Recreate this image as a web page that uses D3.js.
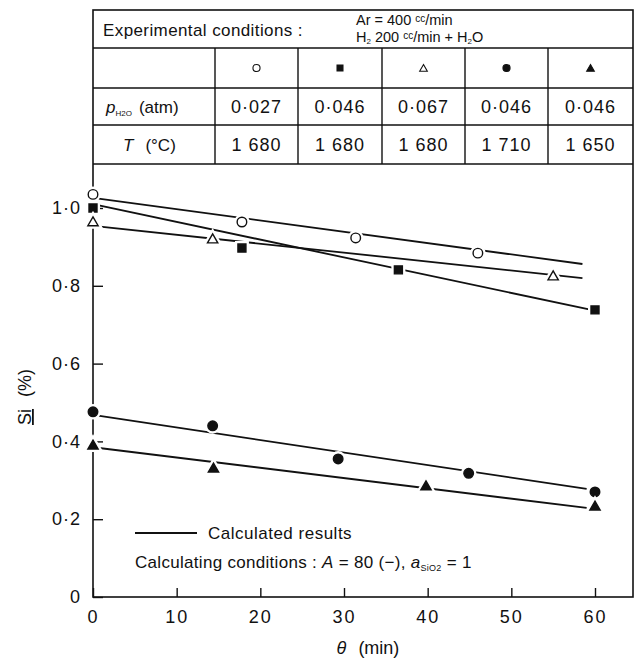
<!DOCTYPE html>
<html>
<head>
<meta charset="utf-8">
<script src="https://cdn.jsdelivr.net/npm/d3@7"></script>
<style>
  body { margin: 0; background: #fff; }
  svg { display: block; }
  text { font-family: "Liberation Sans", Arial, sans-serif; fill: #111; }
</style>
</head>
<body>
<div id="chart"></div>
<script>
// series (table columns)
const symbols = ["openCircle", "filledSquare", "openTriangle", "filledCircle", "filledTriangle"];
const pH2O = ["0·027", "0·046", "0·067", "0·046", "0·046"];
const tempC = ["1 680", "1 680", "1 680", "1 710", "1 650"];

// measured points (theta in min, Si in %)
const obsTheta = [
  [0, 17.8, 31.4, 46],
  [0, 17.8, 36.5, 60],
  [0, 14.3, 55],
  [0, 14.3, 29.3, 44.9, 60],
  [0, 14.4, 39.8, 60]
];
const obsSi = [
  [1.035, 0.964, 0.923, 0.884],
  [1.0, 0.897, 0.841, 0.738],
  [0.962, 0.918, 0.823],
  [0.476, 0.44, 0.355, 0.318, 0.27],
  [0.388, 0.329, 0.283, 0.231]
];

// calculated result lines
const calcTheta = [[0, 58.5], [0, 60], [0, 58.5], [0, 59], [0, 59]];
const calcSi = [[1.026, 0.856], [1.01, 0.736], [0.954, 0.820], [0.468, 0.278], [0.385, 0.229]];

const xTicks = [0, 10, 20, 30, 40, 50, 60];
const yTicks = [0, 0.2, 0.4, 0.6, 0.8, 1.0];

const W = 642, H = 659;
const plotLeft = 93, plotRight = 633, frameTop = 10, plotBottom = 597;

const svg = d3.select("#chart").append("svg")
  .attr("width", W).attr("height", H);

const x = d3.scaleLinear().domain([0, 60]).range([plotLeft, 595]);
const y = d3.scaleLinear().domain([0, 1]).range([plotBottom, 208]);

// frame
svg.append("rect")
  .attr("x", plotLeft).attr("y", frameTop)
  .attr("width", plotRight - plotLeft).attr("height", plotBottom - frameTop)
  .attr("fill", "none").attr("stroke", "#111").attr("stroke-width", 1.6);

// table grid
const colX = [93, 215, 298, 382, 465, 548, 633];
const rowY = [10, 48, 88, 125, 164];
rowY.slice(1).forEach(ry => {
  svg.append("line").attr("x1", plotLeft).attr("x2", plotRight)
    .attr("y1", ry).attr("y2", ry)
    .attr("stroke", "#111").attr("stroke-width", 1.4);
});
colX.slice(1, -1).forEach(cx => {
  svg.append("line").attr("x1", cx).attr("x2", cx)
    .attr("y1", rowY[1]).attr("y2", rowY[4])
    .attr("stroke", "#111").attr("stroke-width", 1.4);
});

// header text
svg.append("text").attr("x", 103).attr("y", 36)
  .attr("font-size", 17).attr("letter-spacing", 0.4)
  .text("Experimental conditions :");

const ar = svg.append("text").attr("x", 356).attr("y", 25).attr("font-size", 14.5);
ar.append("tspan").text("Ar = 400 ");
ar.append("tspan").attr("font-size", 10).attr("dy", -3).text("cc");
ar.append("tspan").attr("dy", 3).text("/min");

const h2 = svg.append("text").attr("x", 356).attr("y", 42).attr("font-size", 14.5);
h2.append("tspan").text("H");
h2.append("tspan").attr("font-size", 8).attr("dy", 2).text("2");
h2.append("tspan").attr("dy", -2).text(" 200 ");
h2.append("tspan").attr("font-size", 10).attr("dy", -3).text("cc");
h2.append("tspan").attr("dy", 3).text("/min + H");
h2.append("tspan").attr("font-size", 8).attr("dy", 2).text("2");
h2.append("tspan").attr("dy", -2).text("O");

// marker shapes
function markerPath(kind, scale) {
  const type = kind.includes("Circle") ? d3.symbolCircle
    : kind.includes("Square") ? d3.symbolSquare : d3.symbolTriangle;
  const size = kind.includes("Circle") ? 72 : kind.includes("Square") ? 64 : 46;
  return d3.symbol().type(type).size(size * scale)();
}
function isFilled(kind) { return kind.startsWith("filled"); }

// table symbol row, p row, T row
const colCenters = colX.slice(1, -1).map((c, i) => (c + colX[i + 2]) / 2);
symbols.forEach((s, i) => {
  svg.append("path")
    .attr("d", markerPath(s, 0.55))
    .attr("transform", `translate(${colCenters[i]},${s.includes("Triangle") ? 69 : 68})`)
    .attr("fill", isFilled(s) ? "#111" : "#fff")
    .attr("stroke", "#111").attr("stroke-width", 1.1);
  svg.append("text").attr("x", colCenters[i]).attr("y", 113)
    .attr("text-anchor", "middle").attr("font-size", 18).attr("letter-spacing", 1)
    .text(pH2O[i]);
  svg.append("text").attr("x", colCenters[i]).attr("y", 151)
    .attr("text-anchor", "middle").attr("font-size", 18).attr("letter-spacing", 1)
    .text(tempC[i]);
});

const pLab = svg.append("text").attr("x", 106).attr("y", 113).attr("font-size", 17);
pLab.append("tspan").attr("font-style", "italic").text("p");
pLab.append("tspan").attr("font-size", 8).attr("dy", 3).text("H2O");
pLab.append("tspan").attr("dy", -3).attr("dx", 7).text("(atm)");

const tLab = svg.append("text").attr("x", 123).attr("y", 151).attr("font-size", 17);
tLab.append("tspan").attr("font-style", "italic").text("T");
tLab.append("tspan").attr("dx", 12).text("(°C)");

// axes
const fmtY = d => d === 0 ? "0" : d3.format(".1f")(d).replace(".", "·");
const yAxis = svg.append("g").attr("transform", `translate(${plotLeft},0)`)
  .call(d3.axisLeft(y).tickValues(yTicks).tickSize(-10).tickPadding(12).tickFormat(fmtY));
yAxis.select(".domain").remove();
yAxis.selectAll("line").attr("stroke", "#111").attr("stroke-width", 1.4);
yAxis.selectAll("text").attr("font-size", 18).attr("letter-spacing", 1)
  .style("font-family", "Liberation Sans, Arial, sans-serif").attr("fill", "#111");

const xAxis = svg.append("g").attr("transform", `translate(0,${plotBottom})`)
  .call(d3.axisBottom(x).tickValues(xTicks).tickSize(-9).tickPadding(13).tickFormat(d3.format("d")));
xAxis.select(".domain").remove();
xAxis.selectAll("line").attr("stroke", "#111").attr("stroke-width", 1.4);
xAxis.selectAll("text").attr("font-size", 18).attr("letter-spacing", 2)
  .style("font-family", "Liberation Sans, Arial, sans-serif").attr("fill", "#111");

// axis titles
const yt = svg.append("text").attr("transform", "translate(31,397) rotate(-90)")
  .attr("text-anchor", "middle").attr("font-size", 18);
yt.append("tspan").attr("text-decoration", "underline").text("Si");
yt.append("tspan").attr("dx", 12).text("(%)");

const xt = svg.append("text").attr("x", 368).attr("y", 654)
  .attr("text-anchor", "middle").attr("font-size", 18);
xt.append("tspan").attr("font-style", "italic").text("θ");
xt.append("tspan").attr("dx", 12).text("(min)");

// calculated lines
const line = d3.line().x(d => x(d[0])).y(d => y(d[1]));
calcTheta.forEach((th, i) => {
  svg.append("path")
    .datum(th.map((t, j) => [t, calcSi[i][j]]))
    .attr("d", line)
    .attr("fill", "none").attr("stroke", "#111").attr("stroke-width", 1.8);
});

// measured points with white halo
symbols.forEach((s, i) => {
  const pts = obsTheta[i].map((t, j) => [t, obsSi[i][j]]);
  const g = svg.append("g");
  g.selectAll("path.halo").data(pts).join("path").attr("class", "halo")
    .attr("d", markerPath(s, 1))
    .attr("transform", d => `translate(${x(d[0])},${y(d[1])})`)
    .attr("fill", "#fff").attr("stroke", "#fff").attr("stroke-width", 6);
  g.selectAll("path.mk").data(pts).join("path").attr("class", "mk")
    .attr("d", markerPath(s, 1))
    .attr("transform", d => `translate(${x(d[0])},${y(d[1])})`)
    .attr("fill", isFilled(s) ? "#111" : "#fff")
    .attr("stroke", "#111").attr("stroke-width", 1.4);
});

// legend
svg.append("line").attr("x1", 135).attr("x2", 197).attr("y1", 533).attr("y2", 533)
  .attr("stroke", "#111").attr("stroke-width", 1.8);
svg.append("text").attr("x", 208).attr("y", 539).attr("font-size", 17).attr("letter-spacing", 0.5)
  .text("Calculated results");

const cond = svg.append("text").attr("x", 135).attr("y", 568).attr("font-size", 17).attr("letter-spacing", 0.3);
cond.append("tspan").text("Calculating conditions :  ");
cond.append("tspan").attr("font-style", "italic").text("A");
cond.append("tspan").text(" = 80 (−),  ");
cond.append("tspan").attr("font-style", "italic").text("a");
cond.append("tspan").attr("font-size", 9).attr("dy", 3).text("SiO2");
cond.append("tspan").attr("dy", -3).text(" = 1");
</script>
</body>
</html>
